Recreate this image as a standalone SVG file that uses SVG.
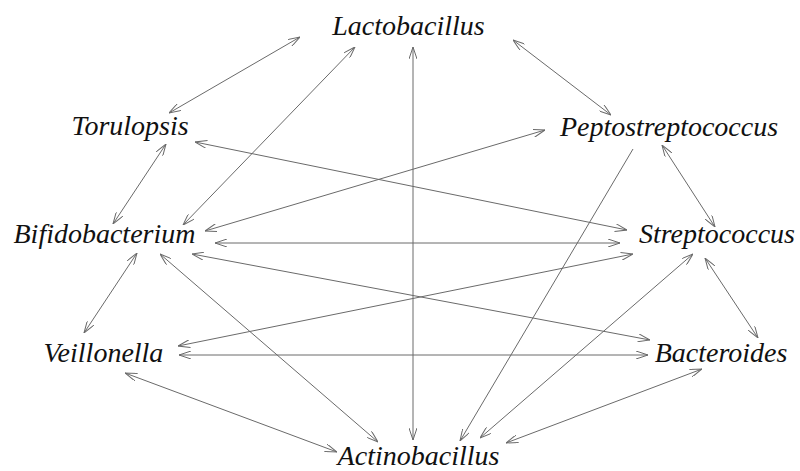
<svg xmlns="http://www.w3.org/2000/svg" width="800" height="471" viewBox="0 0 800 471">
<defs>
<style>
.lbl{font-family:"Liberation Serif","Times New Roman",serif;font-style:italic;font-size:28px;fill:#111;text-anchor:middle}
.e{stroke:#6a6a6a;stroke-width:1;fill:none}
.b{marker-start:url(#ah);marker-end:url(#ah)}
.s{marker-end:url(#ah)}
</style>
<marker id="ah" viewBox="0 0 12 8" refX="12" refY="4" markerWidth="12" markerHeight="8" markerUnits="userSpaceOnUse" orient="auto-start-reverse">
<path d="M0,0 L12,4 L0,8" fill="none" stroke="#6a6a6a" stroke-width="1"/>
</marker>
</defs>
<rect width="800" height="471" fill="#fff"/>
<g id="connectors">
<line class="e b" x1="169" y1="113" x2="300" y2="37"/>
<line class="e b" x1="183" y1="225" x2="355" y2="47"/>
<line class="e b" x1="413" y1="440" x2="413" y2="47"/>
<line class="e b" x1="513" y1="40" x2="611" y2="115"/>
<line class="e b" x1="195" y1="142" x2="627" y2="230"/>
<line class="e b" x1="166" y1="144" x2="113" y2="224"/>
<line class="e b" x1="205" y1="231" x2="545" y2="130"/>
<line class="e b" x1="215" y1="243" x2="620" y2="243"/>
<line class="e b" x1="192" y1="254" x2="650" y2="340"/>
<line class="e b" x1="137" y1="253" x2="84" y2="333"/>
<line class="e b" x1="160" y1="254" x2="378" y2="442"/>
<line class="e b" x1="178" y1="346" x2="633" y2="254"/>
<line class="e b" x1="179" y1="355" x2="648" y2="355"/>
<line class="e b" x1="125" y1="373" x2="337" y2="452"/>
<line class="e s" x1="633" y1="149" x2="460" y2="441"/>
<line class="e b" x1="693" y1="254" x2="480" y2="438"/>
<line class="e b" x1="705" y1="258" x2="758" y2="338"/>
<line class="e b" x1="702" y1="369" x2="506" y2="443"/>
<line class="e b" x1="662" y1="145" x2="715" y2="227"/>
</g>
<g id="lactobacillus"><text class="lbl" x="408.5" y="35">Lactobacillus</text></g>
<g id="torulopsis"><text class="lbl" x="130" y="135">Torulopsis</text></g>
<g id="peptostreptococcus"><text class="lbl" x="669" y="136">Peptostreptococcus</text></g>
<g id="bifidobacterium"><text class="lbl" x="104.5" y="243">Bifidobacterium</text></g>
<g id="streptococcus"><text class="lbl" x="717" y="243">Streptococcus</text></g>
<g id="veillonella"><text class="lbl" x="103.5" y="362">Veillonella</text></g>
<g id="bacteroides"><text class="lbl" x="721" y="362">Bacteroides</text></g>
<g id="actinobacillus"><text class="lbl" x="418.5" y="465">Actinobacillus</text></g>
</svg>
